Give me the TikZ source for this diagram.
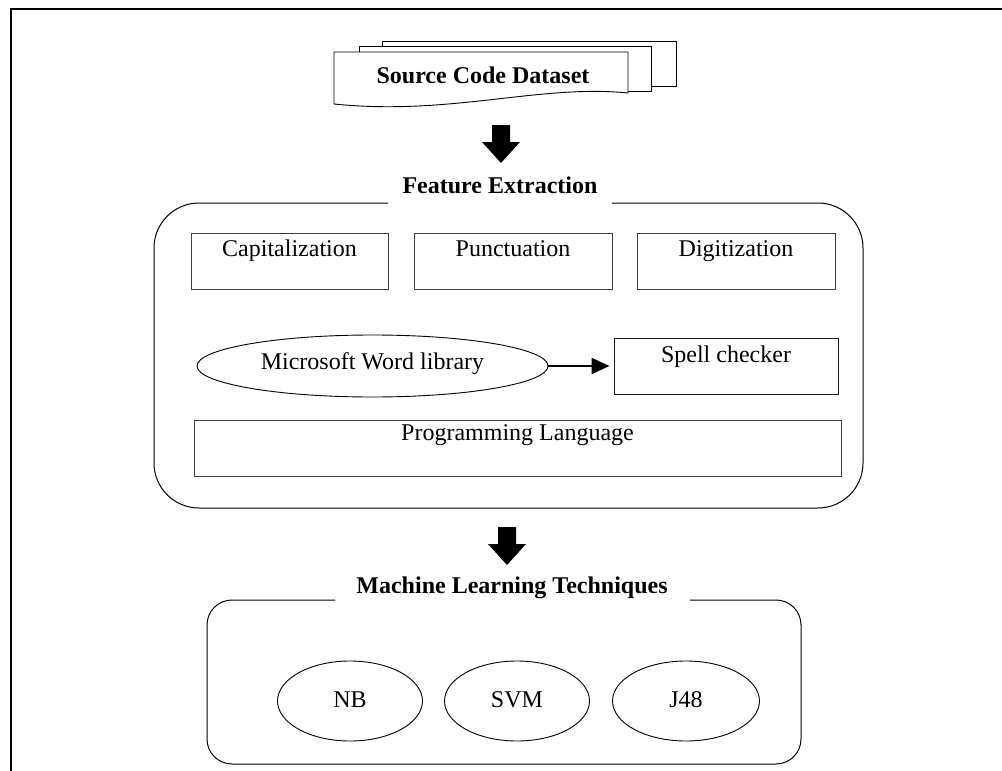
\documentclass[tikz,border=0pt]{standalone}
\usepackage{fontspec}
\setmainfont{Liberation Serif}
\usetikzlibrary{shapes.geometric,arrows.meta}
\begin{document}
\begin{tikzpicture}[x=1pt,y=-1pt,
  lbl/.style={font=\fontsize{24}{28}\selectfont, inner sep=0pt, anchor=base},
  blbl/.style={font=\fontsize{24}{28}\selectfont\bfseries, inner sep=0pt, anchor=base},
  featbox/.style={draw=black!75, line width=1pt, rectangle, inner sep=0pt},
  oval/.style={draw=black, line width=0.9pt, ellipse, inner sep=0pt},
  page/.style={draw=black, line width=0.9pt, fill=white},
  grp/.style={draw=black, line width=1pt},
  blockarr/.pic={\fill[black] (-9,0) -- (9,0) -- (9,17) -- (19,17) -- (0,38) -- (-19,17) -- (-9,17) -- cycle;}
]
\useasboundingbox (0,0) rectangle (1002,771);
% outer frame
\draw[line width=2pt] (11,771) -- (11,9) -- (1002,9);

% document stack
\draw[page] (382,41) rectangle (676,86);
\draw[page] (359,46) rectangle (651,91);
\draw[page] (334,52) -- (628,52) -- (628,93) .. controls (540,84) and (450,116) .. (334,104) -- cycle;
\node[blbl] (src) at (483,83) {Source Code Dataset};

% arrow 1
\pic at (501,125) {blockarr};
\node[blbl] (fe) at (500,193) {Feature Extraction};

% feature group
\draw[grp, rounded corners=45pt] (388,203) -- (154,203) -- (154,508) -- (863,508) -- (863,203) -- (612,203);

\node[featbox, minimum width=197pt, minimum height=56pt] (cap) at (289.5,261) {};
\node[lbl] at ([yshift=-24pt]cap.north) {Capitalization};
\node[featbox, minimum width=198pt, minimum height=56pt] (pun) at (513,261) {};
\node[lbl] at ([yshift=-24pt]pun.north) {Punctuation};
\node[featbox, minimum width=198pt, minimum height=56pt] (dig) at (736,261) {};
\node[lbl] at ([yshift=-24pt]dig.north) {Digitization};

\node[oval, minimum width=351pt, minimum height=62pt] (mwl) at (372.5,366) {};
\node[lbl] at ([yshift=-3pt]mwl.center) {Microsoft Word library};
\node[featbox, draw=black!90, minimum width=224pt, minimum height=56pt] (spell) at (726,366) {};
\node[lbl] at ([yshift=-25pt]spell.north) {Spell checker};
\coordinate (spellin) at ([xshift=-4pt]spell.west);
\draw[line width=2pt, -{Triangle[length=18pt,width=16pt]}] (mwl.east) -- (spellin);

\node[featbox, minimum width=647pt, minimum height=56pt] (prog) at (517.5,448) {};
\node[lbl] at ([yshift=-21pt]prog.north) {Programming Language};

% arrow 2
\pic at (507,527) {blockarr};
\node[blbl] (ml) at (512,593) {Machine Learning Techniques};

% ML group
\draw[grp, rounded corners=25pt] (335,600) -- (207,600) -- (207,764) -- (801,764) -- (801,600) -- (690,600);
\node[oval, minimum width=145pt, minimum height=80pt] (nb) at (350,701) {};
\node[lbl] at ([yshift=-6pt]nb.center) {NB};
\node[oval, minimum width=145pt, minimum height=80pt] (svm) at (517,701) {};
\node[lbl] at ([yshift=-6pt]svm.center) {SVM};
\node[oval, minimum width=147pt, minimum height=80pt] (j48) at (686,701) {};
\node[lbl] at ([yshift=-6pt]j48.center) {J48};
\end{tikzpicture}
\end{document}
